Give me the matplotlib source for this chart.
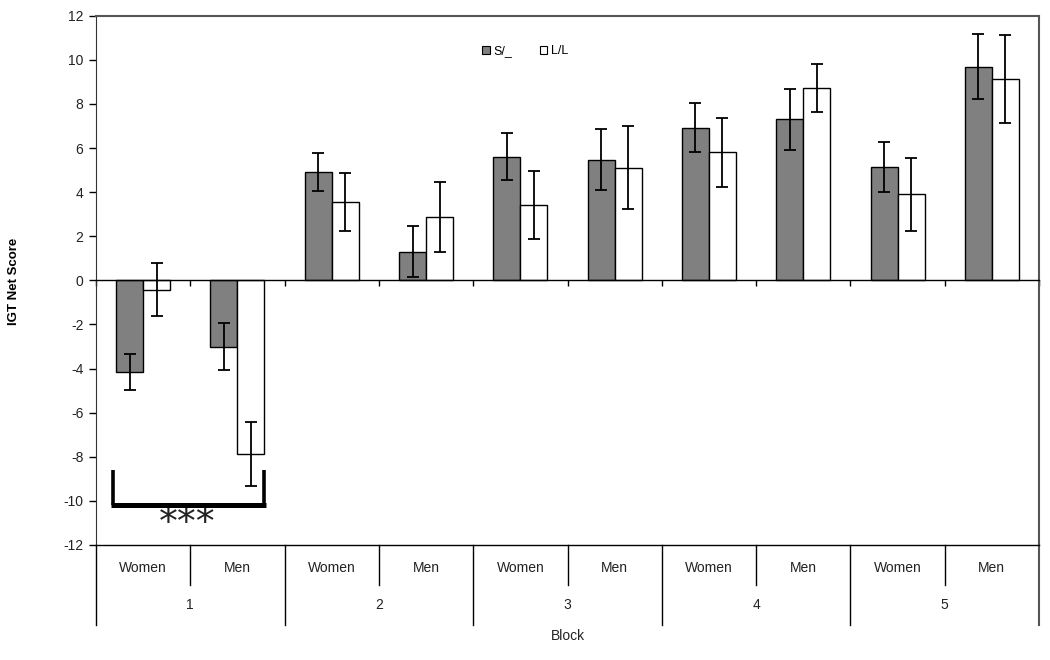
import matplotlib
matplotlib.use("Agg")
import matplotlib.pyplot as plt
from matplotlib.patches import Patch
from matplotlib.lines import Line2D
import numpy as np

plt.rcParams['font.family'] = ['Liberation Sans', 'DejaVu Sans']

blocks = ["1", "2", "3", "4", "5"]
sexes = ["Women", "Men"]
series_names = ["S/_", "L/L"]
s_vals = [-4.15, -3.0, 4.9, 1.3, 5.61, 5.46, 6.93, 7.30, 5.13, 9.69]
s_err = [0.83, 1.07, 0.87, 1.16, 1.06, 1.38, 1.09, 1.39, 1.13, 1.47]
l_vals = [-0.42, -7.88, 3.57, 2.87, 3.40, 5.10, 5.80, 8.72, 3.90, 9.13]
l_err = [1.2, 1.45, 1.31, 1.6, 1.54, 1.88, 1.57, 1.1, 1.65, 2.01]
yticks = list(range(-12, 13, 2))

fig = plt.figure(figsize=(10.5, 6.6), dpi=100)
ax = fig.add_axes([96/1050, 1-545/660, 943/1050, 529.3/660])

n = len(s_vals)
centers = np.arange(n) + 0.5
w = 0.286
ax.bar(centers - w/2, s_vals, w, color='#808080', edgecolor='black', linewidth=1, zorder=2)
ax.bar(centers + w/2, l_vals, w, color='white', edgecolor='black', linewidth=1, zorder=2)
ax.errorbar(centers - w/2, s_vals, yerr=s_err, fmt='none', ecolor='black', elinewidth=1.3, capsize=4, capthick=1.3, zorder=3)
ax.errorbar(centers + w/2, l_vals, yerr=l_err, fmt='none', ecolor='black', elinewidth=1.3, capsize=4, capthick=1.3, zorder=3)

ax.set_xlim(0, n)
ax.set_ylim(-12, 12)
ax.set_yticks(yticks)
ax.set_yticklabels([str(t) for t in yticks], fontsize=10, color='#222222')
ax.tick_params(axis='y', direction='out', length=5, width=1, pad=4)

# zero axis with category boundary ticks
ax.spines['bottom'].set_position(('data', 0))
ax.spines['bottom'].set_linewidth(1)
ax.set_xticks(np.arange(n + 1))
ax.set_xticklabels([])
ax.tick_params(axis='x', direction='out', length=4, width=1)
ax.spines['top'].set_color('#555555')
ax.spines['right'].set_color('#555555')
ax.spines['top'].set_linewidth(1.5)
ax.spines['right'].set_linewidth(1.5)
ax.spines['left'].set_color('#333333')

# bottom line at -12
ax.plot([0, n], [-12, -12], color='black', lw=1, clip_on=False, zorder=4)

# category label area (multi-level)
trans = ax.get_xaxis_transform()
for k in range(n + 1):
    if k % 2 == 0:
        y_end = -0.151
    else:
        y_end = -0.0756
    color = '#555555' if k == n else 'black'
    lw = 1.5 if k == n else 1
    ax.add_line(Line2D([k, k], [0, y_end], transform=trans, color=color, lw=lw, clip_on=False))
for i, c in enumerate(centers):
    ax.text(c, -0.0435, sexes[i % 2], transform=trans, ha='center', va='center', fontsize=10, color='#222222')
for b, name in enumerate(blocks):
    ax.text(2*b + 1, -0.113, name, transform=trans, ha='center', va='center', fontsize=10, color='#222222')
ax.text(n/2, -0.172, "Block", transform=trans, ha='center', va='center', fontsize=10, color='#222222')

fig.text(14/1050, 1-281/660, "IGT Net Score", rotation=90, ha='center', va='center', fontsize=9.5, fontweight='bold')

# significance bracket
ax.plot([0.18, 0.18], [-8.62, -10.17], color='black', lw=2.6, clip_on=False, solid_capstyle='butt', zorder=5)
ax.plot([1.78, 1.78], [-8.62, -10.17], color='black', lw=2.6, clip_on=False, solid_capstyle='butt', zorder=5)
ax.plot([0.16, 1.80], [-10.17, -10.17], color='black', lw=3.6, clip_on=False, solid_capstyle='butt', zorder=5)
ax.text(0.965, -11.05, "***", ha='center', va='center', fontsize=27, family='DejaVu Sans', color='#222222')

handles = [Patch(facecolor='#808080', edgecolor='black', linewidth=0.8),
           Patch(facecolor='white', edgecolor='black', linewidth=0.8)]
ax.legend(handles, series_names, loc='center', bbox_to_anchor=(0.455, 0.933), ncol=2, frameon=False,
          fontsize=9, handlelength=0.6, handleheight=0.6, handletextpad=0.3, columnspacing=2.2)

fig.savefig("out.png", dpi=100)
